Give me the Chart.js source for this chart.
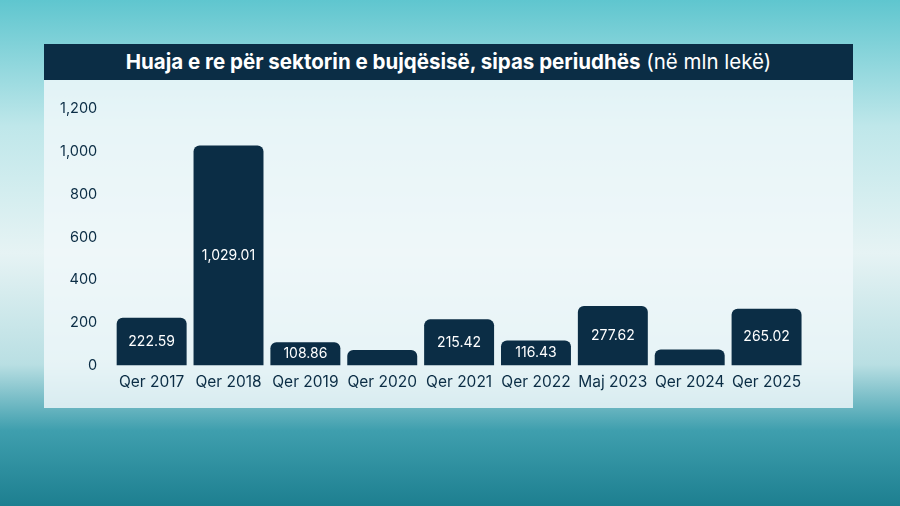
<!DOCTYPE html>
<html><head><meta charset="utf-8">
<script src="https://cdn.jsdelivr.net/npm/chart.js@4"></script>
<style>
html,body{margin:0;padding:0;width:900px;height:506px;overflow:hidden;font-family:Inter,"Noto Sans",sans-serif}
body{background:linear-gradient(180deg,#5fc6cf 0%,#bfe7ea 25%,#e6f3f4 50%,#b9dfe3 72%,#3f9fae 85%,#1d7f90 100%)}
#title{position:absolute;left:44px;top:44px;width:809px;height:36px;background:#0b2d45;color:#fff;font-size:20.5px;line-height:36px;text-align:center}
#title b{font-weight:700}
#panel{position:absolute;left:44px;top:80px;width:809px;height:328px;background:rgba(240,248,250,0.82)}
#wrap{position:absolute;left:44px;top:80px;width:809px;height:328px}
</style></head><body>
<div id="title"><b>Huaja e re për sektorin e bujqësisë, sipas periudhës</b> (në mln lekë)</div>
<div id="panel"></div>
<div id="wrap"><canvas id="c"></canvas></div>
<script>
const categories=["Qer 2017","Qer 2018","Qer 2019","Qer 2020","Qer 2021","Qer 2022","Maj 2023","Qer 2024","Qer 2025"];
const values=[222.59,1029.01,108.86,72,215.42,116.43,277.62,75,265.02];
const labels=["222.59","1,029.01","108.86","","215.42","116.43","277.62","","265.02"];
const labelPlugin={id:"lbl",afterDatasetsDraw(ch){const c=ch.ctx;const m=ch.getDatasetMeta(0);c.save();c.fillStyle="#fff";c.font="14px Inter";c.textAlign="center";c.textBaseline="middle";
m.data.forEach((b,i)=>{if(!labels[i])return;c.fillText(labels[i],b.x,(b.y+b.base)/2);});c.restore();}};
new Chart(document.getElementById("c"),{type:"bar",
data:{labels:categories,datasets:[{data:values,backgroundColor:"#0b2d45",barPercentage:0.91,categoryPercentage:1,borderRadius:{topLeft:6,topRight:6},borderSkipped:"bottom"}]},
options:{responsive:true,maintainAspectRatio:false,animation:false,
layout:{padding:{left:8,right:48,top:29,bottom:16}},
plugins:{legend:{display:false},tooltip:{enabled:false}},
scales:{x:{grid:{display:false},border:{display:false},ticks:{color:"#0b2d45",font:{size:15.5,family:"Inter"},padding:0}},
y:{min:0,max:1200,grid:{display:false},border:{display:false},ticks:{stepSize:200,color:"#0b2d45",font:{size:14.5,family:"Inter"},padding:8,callback:v=>v.toLocaleString("en-US")}}}},
plugins:[labelPlugin]});
</script></body></html>
